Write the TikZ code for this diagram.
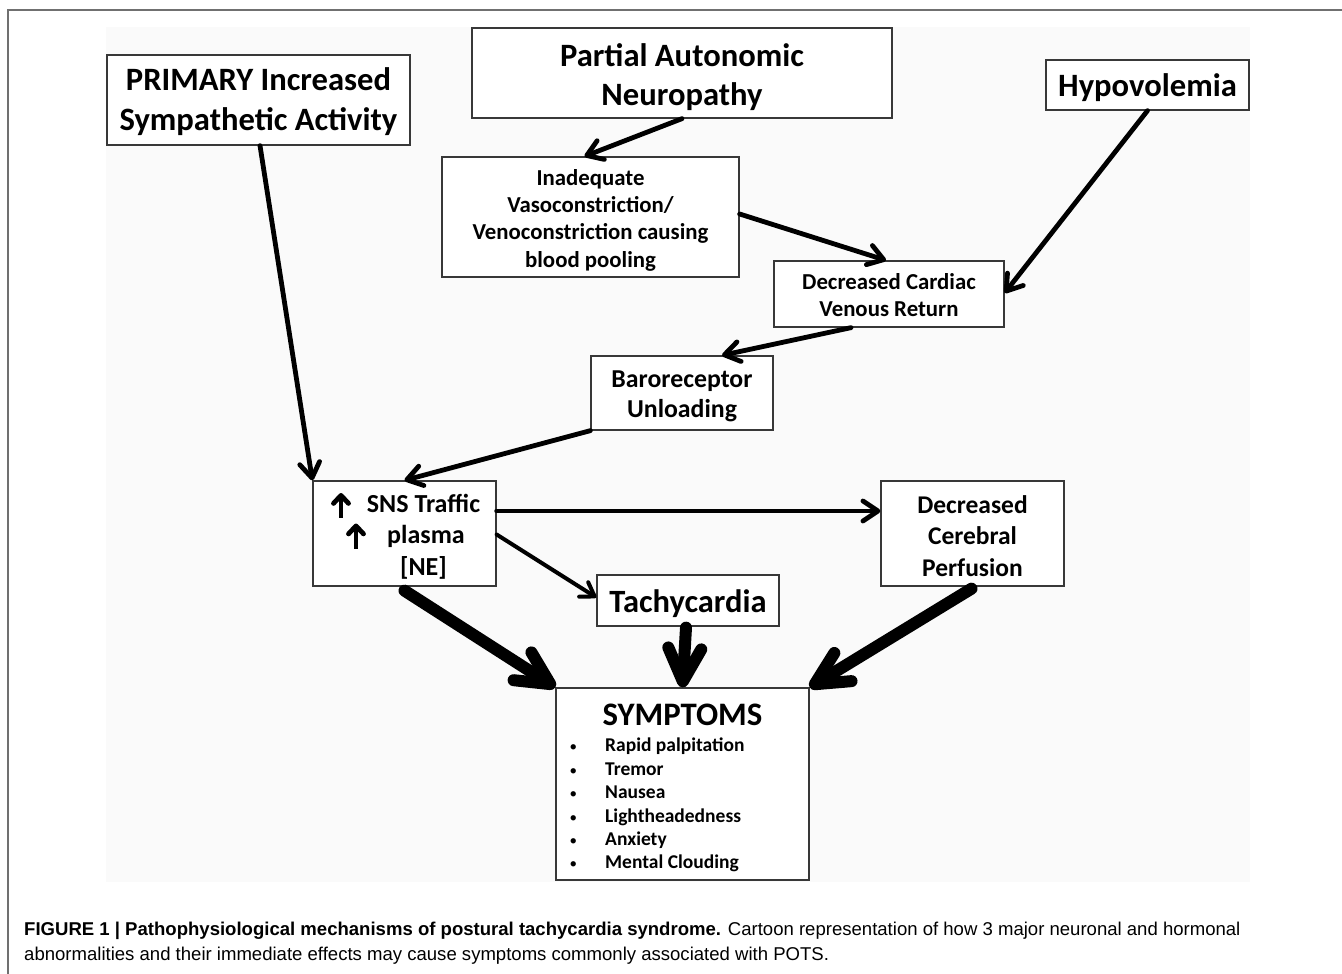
\documentclass[tikz,border=0pt]{standalone}
\usepackage{fontspec}
\setmainfont{Carlito}
\newfontfamily\capfont{Liberation Sans}
\usetikzlibrary{arrows.meta}
\definecolor{framegray}{HTML}{707070}
\definecolor{bggray}{HTML}{FAFAFA}
\newcommand{\blt}{\makebox[37pt][l]{\hspace*{1.5pt}\mdseries\fontsize{15}{15}\selectfont•}}
\begin{document}
\begin{tikzpicture}[x=1pt,y=-1pt,
  box/.style={draw=black!78, line width=1.3pt, fill=white, inner sep=0pt},
  txt/.style={inner sep=0pt, align=center},
  glypharr/.style={line width=4.8pt, -{Straight Barb[round, length=8pt, width=15pt]}},
  thinarr/.style={line width=4.8pt, line cap=round, line join=round, -{Straight Barb[round, length=15pt, width=20pt]}},
  medarr/.style={line width=4pt, line cap=round, line join=round, -{Straight Barb[round, length=13pt, width=17pt]}},
  thickarr/.style={line width=12pt, line cap=round, line join=round, -{Straight Barb[round, length=33pt, width=33pt]}},
  captext/.style={anchor=base west, inner sep=0pt, font=\capfont\fontsize{18.55}{22}\selectfont}
]
\useasboundingbox (0,0) rectangle (1342,974);
\fill[white] (0,0) rectangle (1342,974);
\fill[bggray] (106,27) rectangle (1250,882);
\draw[framegray, line width=2pt] (1342,10) -- (8,10) -- (8,974);

% boxes
\node[box, minimum width=303pt, minimum height=90pt] (prim) at (258.5,100) {};
\node[box, minimum width=420pt, minimum height=90pt] (pan) at (682,73) {};
\node[box, minimum width=203pt, minimum height=50pt] (hypo) at (1147.5,85) {};
\node[box, minimum width=297pt, minimum height=120pt] (inad) at (590.5,217) {};
\node[box, minimum width=230pt, minimum height=66pt] (dcvr) at (889,294) {};
\node[box, minimum width=182pt, minimum height=74pt] (baro) at (682,393) {};
\node[box, minimum width=183pt, minimum height=105pt] (sns) at (404.5,533.5) {};
\node[box, minimum width=183pt, minimum height=105pt] (dcp) at (972.5,533.5) {};
\node[box, minimum width=182pt, minimum height=51pt] (tach) at (688,600.5) {};
\node[box, minimum width=253pt, minimum height=192pt] (symp) at (682.5,784) {};

% texts
\node[txt, font=\bfseries\fontsize{32.6}{40}\selectfont] (primt) at ([yshift=-2pt]prim.center) {PRIMARY Increased\\Sympathetic Activity};
\node[txt, font=\bfseries\fontsize{32.6}{39.5}\selectfont] (pant) at ([yshift=-4pt]pan.center) {Partial Autonomic\\Neuropathy};
\node[txt, font=\bfseries\fontsize{32.6}{39}\selectfont] (hypot) at ([yshift=-3pt]hypo.center) {Hypovolemia};
\node[txt, font=\bfseries\fontsize{22.8}{27.3}\selectfont] (inadt) at ([yshift=-3pt]inad.center) {Inadequate\\Vasoconstriction/\\Venoconstriction causing\\blood pooling};
\node[txt, font=\bfseries\fontsize{22.8}{27.3}\selectfont] (dcvrt) at ([yshift=-1pt]dcvr.center) {Decreased Cardiac\\Venous Return};
\node[txt, font=\bfseries\fontsize{25.8}{30}\selectfont] (barot) at ([yshift=-3pt]baro.center) {Baroreceptor\\Unloading};
\node[txt, font=\bfseries\fontsize{26}{31.5}\selectfont] (snst) at ([xshift=19pt,yshift=-3pt]sns.center) {SNS Traffic\\\hspace*{5pt}plasma\\{}[NE]};
\node[txt, font=\bfseries\fontsize{25.5}{31.5}\selectfont] (dcpt) at ([yshift=-2.5pt]dcp.center) {Decreased\\Cerebral\\Perfusion};
\node[txt, font=\bfseries\fontsize{32.5}{38}\selectfont] (tacht) at ([yshift=-3pt]tach.center) {Tachycardia};
\node[txt, font=\bfseries\fontsize{32.8}{38}\selectfont] (sympt) at (682.5,715) {SYMPTOMS};
\node[anchor=north west, inner sep=0pt, align=left, font=\bfseries\fontsize{19.5}{23.4}\selectfont] (sympl) at (568,738) {%
\blt Rapid palpitation\\
\blt Tremor\\
\blt Nausea\\
\blt Lightheadedness\\
\blt Anxiety\\
\blt Mental Clouding};

% up-arrow glyphs in the SNS box
\draw[glypharr] ([xshift=-63.5pt,yshift=16pt]sns.center) -- ([xshift=-63.5pt,yshift=40.5pt]sns.center);
\draw[glypharr] ([xshift=-48.5pt,yshift=-15pt]sns.center) -- ([xshift=-48.5pt,yshift=10pt]sns.center);

% connectors
\draw[thinarr] ([xshift=1.5pt]prim.south) -- (sns.north west);
\draw[thinarr] (pan.south) -- ([xshift=-6pt]inad.north);
\draw[thinarr] ([yshift=3pt]inad.east) -- ([xshift=-3pt]dcvr.north);
\draw[thinarr] (hypo.south) -- ([yshift=1pt]dcvr.east);
\draw[thinarr] ([xshift=-38pt]dcvr.south) -- ([xshift=40pt]baro.north);
\draw[thinarr] (baro.south west) -- (sns.north);
\draw[thinarr] ([yshift=22.5pt]sns.east) -- ([yshift=22.5pt]dcp.west);
\draw[medarr] ([yshift=-1pt]sns.east) -- ([yshift=3pt]tach.west);
\draw[thickarr] ([yshift=-4pt]sns.south) -- (symp.north west);
\draw[thickarr] ([yshift=-1pt,xshift=-2pt]tach.south) -- (symp.north);
\draw[thickarr] ([yshift=-2pt,xshift=-1pt]dcp.south) -- (symp.north east);

% caption
\node[captext] (cap1) at (24,935) {\textbf{FIGURE 1 | Pathophysiological mechanisms of postural tachycardia syndrome.} Cartoon representation of how 3 major neuronal and hormonal};
\node[captext] (cap2) at (24,960) {abnormalities and their immediate effects may cause symptoms commonly associated with POTS.};
\end{tikzpicture}
\end{document}
